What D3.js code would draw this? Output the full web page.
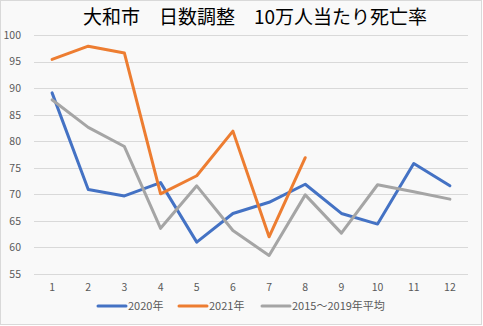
<!DOCTYPE html>
<html><head><meta charset="utf-8">
<script src="https://cdn.jsdelivr.net/npm/d3@7"></script>
<style>
html,body{margin:0;padding:0;background:#fff;}
svg{display:block;}
</style></head>
<body>
<svg id="chart" width="483" height="326"></svg>
<script>
const title = "大和市　日数調整　10万人当たり死亡率";
const months = ["1","2","3","4","5","6","7","8","9","10","11","12"];
const seriesNames = ["2020年","2021年","2015～2019年平均"];
const seriesColors = ["#4472C4","#ED7D31","#A5A5A5"];
const values2020 = [89.1,70.9,69.7,72.2,61.0,66.4,68.5,71.9,66.4,64.4,75.8,71.6];
const values2021 = [95.4,97.9,96.6,70.1,73.5,81.9,62.0,76.9];
const valuesAvg = [87.8,82.6,79.0,63.6,71.6,63.2,58.5,69.9,62.7,71.8,70.5,69.1];
const yTicks = [55,60,65,70,75,80,85,90,95,100];

(function(){
const svg = d3.select("#chart");
svg.append("rect").attr("x",0.5).attr("y",0.5).attr("width",481).attr("height",324)
  .attr("fill","#f9f9f9").attr("stroke","#d9d9d9").attr("stroke-width",1);

const pl = 34, pr = 468, pt = 35, pb = 274;
const x = d3.scaleBand().domain(months).range([pl,pr]);
const y = d3.scaleLinear().domain([55,100]).range([pb,pt]);

const font = "'Noto Sans CJK JP','Noto Sans',sans-serif";

svg.append("g").selectAll("line").data(yTicks).join("line")
  .attr("x1",pl).attr("x2",pr)
  .attr("y1",d=>Math.round(y(d))+0.5).attr("y2",d=>Math.round(y(d))+0.5)
  .attr("stroke","#d9d9d9").attr("stroke-width",1);

const yAxis = d3.axisLeft(y).tickValues(yTicks).tickSize(0).tickPadding(0);
const gy = svg.append("g").attr("transform",`translate(${21},0)`).call(yAxis);
gy.select(".domain").remove();
gy.selectAll("text").attr("font-family",font).attr("font-size","10.5px").attr("fill","#595959");

const xAxis = d3.axisBottom(x).tickSize(0).tickPadding(0);
const gx = svg.append("g").attr("transform",`translate(0,${283.5})`).call(xAxis);
gx.select(".domain").remove();
gx.selectAll("text").attr("font-family",font).attr("font-size","10.5px").attr("fill","#595959");

const line = d3.line().x((d,i)=>x(months[i])+x.bandwidth()/2).y(d=>y(d));
[values2020, values2021, valuesAvg].forEach((vals,i)=>{
  svg.append("path").datum(vals).attr("d",line).attr("fill","none")
    .attr("stroke",seriesColors[i]).attr("stroke-width",3)
    .attr("stroke-linejoin","round").attr("stroke-linecap","round");
});

svg.append("text").attr("x",255).attr("y",24).attr("text-anchor","middle")
  .attr("font-family",font).attr("font-size","19px").attr("fill","#000")
  .text(title);

const legendX = [98,179,262];
const lg = svg.append("g");
seriesNames.forEach((n,i)=>{
  lg.append("line").attr("x1",legendX[i]).attr("x2",legendX[i]+28)
    .attr("y1",306).attr("y2",306).attr("stroke",seriesColors[i]).attr("stroke-width",3)
    .attr("stroke-linecap","round");
  lg.append("text").attr("x",legendX[i]+30).attr("y",310)
    .attr("font-family",font).attr("font-size","11px").attr("fill","#595959").text(n);
});
})();
</script>
</body></html>
